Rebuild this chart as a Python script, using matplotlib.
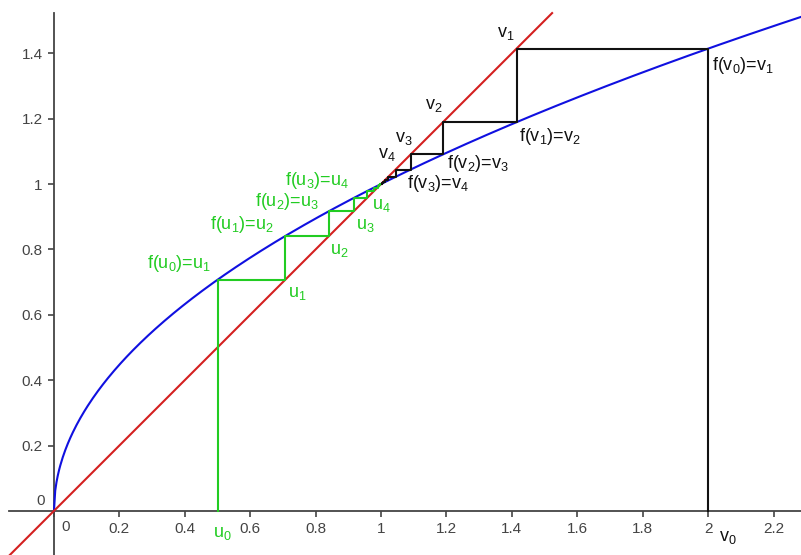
import numpy as np
import matplotlib
matplotlib.use('Agg')
import matplotlib.pyplot as plt

plt.rcParams['font.family'] = ['Liberation Sans', 'DejaVu Sans']
plt.rcParams['mathtext.default'] = 'regular'

# starting values of the two sequences, f(x) = sqrt(x)
u0 = 0.5
v0 = 2.0
n_steps = 8

x_ticks = [0, 0.2, 0.4, 0.6, 0.8, 1, 1.2, 1.4, 1.6, 1.8, 2, 2.2]
x_tick_labels = ['0', '0.2', '0.4', '0.6', '0.8', '1', '1.2', '1.4', '1.6', '1.8', '2', '2.2']
y_ticks = [0.2, 0.4, 0.6, 0.8, 1, 1.2, 1.4]
y_tick_labels = ['0.2', '0.4', '0.6', '0.8', '1', '1.2', '1.4']

u_labels = [r'u$_1$', r'u$_2$', r'u$_3$', r'u$_4$']
u_label_pos = [(0.716, 0.664), (0.844, 0.798), (0.924, 0.872), (0.972, 0.933)]
fu_labels = [r'f(u$_0$)=u$_1$', r'f(u$_1$)=u$_2$', r'f(u$_2$)=u$_3$', r'f(u$_3$)=u$_4$']
fu_label_pos = [(0.284, 0.758), (0.477, 0.875), (0.615, 0.945), (0.706, 1.012)]
v_labels = [r'v$_1$', r'v$_2$', r'v$_3$', r'v$_4$']
v_label_pos = [(1.355, 1.459), (1.135, 1.239), (1.043, 1.138), (0.991, 1.089)]
fv_labels = [r'f(v$_0$)=v$_1$', r'f(v$_1$)=v$_2$', r'f(v$_2$)=v$_3$', r'f(v$_3$)=v$_4$']
fv_label_pos = [(2.012, 1.364), (1.422, 1.144), (1.202, 1.064), (1.080, 1.003)]

green = '#22cc22'
axis_col = '#444444'


def cobweb(x0, n):
    xs = [x0, x0]
    ys = [0, np.sqrt(x0)]
    x = x0
    for i in range(n):
        y = np.sqrt(x)
        xs.append(y)
        ys.append(y)
        xs.append(y)
        ys.append(np.sqrt(y))
        x = y
    return xs, ys


fig = plt.figure(figsize=(8.01, 5.55), dpi=100)
ax = fig.add_axes([0, 0, 1, 1])
ax.set_xlim(-0.165, 2.284)
ax.set_ylim(-0.135, 1.563)

# curve and diagonal
xx = np.linspace(0, 2.3, 600)
ax.plot(xx, np.sqrt(xx), color='#1010e0', lw=1.5, zorder=3)
dd = np.linspace(-0.2, 1.523, 10)
ax.plot(dd, dd, color='#d42020', lw=1.5, zorder=3)

xs, ys = cobweb(u0, n_steps)
ax.plot(xs, ys, color=green, lw=1.5, zorder=4)
xs, ys = cobweb(v0, n_steps)
ax.plot(xs, ys, color='#111111', lw=1.5, zorder=4)

# axes through the origin
for s in ['top', 'right']:
    ax.spines[s].set_visible(False)
ax.spines['left'].set_position(('data', 0))
ax.spines['bottom'].set_position(('data', 0))
ax.spines['left'].set_bounds(-0.135, 1.523)
ax.spines['bottom'].set_bounds(-0.138, 2.284)
for s in ['left', 'bottom']:
    ax.spines[s].set_color(axis_col)
    ax.spines[s].set_linewidth(1.3)

ax.set_xticks(x_ticks)
ax.set_xticklabels(x_tick_labels)
ax.set_yticks(y_ticks)
ax.set_yticklabels(y_tick_labels)
ax.tick_params(direction='out', length=4, width=1.2, color=axis_col,
               labelcolor='#444444', labelsize=11, pad=4)
ax.get_xticklabels()[0].set_visible(False)
ax.text(0.035, -0.05, '0', fontsize=11, color='#444444', ha='center', va='center')
ax.text(-0.04, 0.03, '0', fontsize=11, color='#444444', ha='center', va='center')

for lab, (x, y) in zip(u_labels + fu_labels, u_label_pos + fu_label_pos):
    ax.text(x, y, lab, color=green, fontsize=13, ha='left', va='center')
for lab, (x, y) in zip(v_labels + fv_labels, v_label_pos + fv_label_pos):
    ax.text(x, y, lab, color='#111111', fontsize=13, ha='left', va='center')

ax.text(0.487, -0.07, r'u$_0$', color=green, fontsize=13, ha='left', va='center')
ax.text(2.032, -0.082, r'v$_0$', color='#111111', fontsize=13, ha='left', va='center')

plt.savefig('out.png', dpi=100)
